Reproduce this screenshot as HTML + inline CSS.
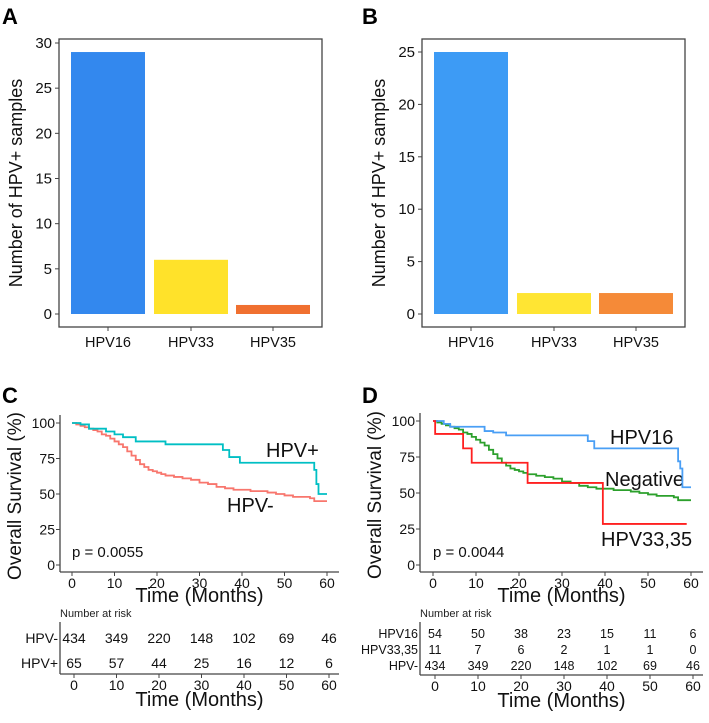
<!DOCTYPE html>
<html><head><meta charset="utf-8"><style>
body{margin:0;background:#fff;}
svg{display:block;font-family:"Liberation Sans",Arial,sans-serif;}
</style></head><body>
<svg width="709" height="723" viewBox="0 0 709 723">
<g id="root"></g>
</svg>
<script>
// Panel A data
const catsA = ["HPV16","HPV33","HPV35"];
const valsA = [29, 6, 1];
const ticksA = [0,5,10,15,20,25,30];
// Panel B data
const catsB = ["HPV16","HPV33","HPV35"];
const valsB = [25, 2, 2];
const ticksB = [0,5,10,15,20,25];
// Panel C KM data
const hpvPosT = [0,2,4,8,10,12,15,22,35.5,37,39.5,57,57.5,58,60];
const hpvPosS = [100,99,96,94,92,90,87,85,81,76,72,67,57,50,50];
const hpvNegT = [0,1,2,3,4,5,6,7,8,9,10,11,12,13,14,15,16,17,18,19,20,21,22,24,26,28,30,32,34,36,38,40,42,44,46,48,50,52,54,56,57,60];
const hpvNegS = [100,99,98,97,96,95,94,92,91,89,87,85,83,80,77,74,71,69,67,66,65,64,63,62,61,60,58,57,55,54,53,53,52,52,51,50,49,48,48,47,45,45];
// Panel D KM data
const hpv16T = [0,2.5,4,12,14,17,36,37.5,57,57.5,58,60];
const hpv16S = [100,98,96,93,92,90,86,81,72,67,54,54];
const hpv3335T = [0,0.5,7,9,22,39.5,59];
const hpv3335S = [100,91,81,71,57,28.5,28.5];
const negT = hpvNegT;
const negS = hpvNegS;
const kmTicks = [0,10,20,30,40,50,60];
const kmYTicks = [0,25,50,75,100];
// Risk tables
const riskCLabels = ["HPV-","HPV+"];
const riskC = [[434,349,220,148,102,69,46],[65,57,44,25,16,12,6]];
const riskDLabels = ["HPV16","HPV33,35","HPV-"];
const riskD = [[54,50,38,23,15,11,6],[11,7,6,2,1,1,0],[434,349,220,148,102,69,46]];

const NS="http://www.w3.org/2000/svg";
const root=document.getElementById('root');
function el(tag,attrs,parent){const e=document.createElementNS(NS,tag);for(const k in attrs)e.setAttribute(k,attrs[k]);(parent||root).appendChild(e);return e;}
function txt(s,x,y,size,anchor,extra){const t=el('text',Object.assign({x:x,y:y,'font-size':size,'text-anchor':anchor||'start',fill:'#111'},extra||{}));t.textContent=s;return t;}

function bar(cats,vals,ticks,box,y0,yTop,vTop,centers,colors,letter,lx,titleX){
  const g=el('g',{});
  
  
  const y=v=>y0-(y0-yTop)*v/vTop;
  const r=el('rect',{x:box[0],y:box[1],width:box[2]-box[0],height:box[3]-box[1],fill:'none',stroke:'#444','stroke-width':1.3},g);
  
  
  ticks.forEach(t=>{el('line',{x1:box[0]-4,x2:box[0],y1:y(t),y2:y(t),stroke:'#444'},g);const tt=txt(String(t),box[0]-7,y(t)+5,15,'end');g.appendChild(tt);});
  cats.forEach((c,i)=>{const cx=centers[i];const b=el('rect',{x:cx-37,y:y(vals[i]),width:74,height:y0-y(vals[i]),fill:colors[i]},g);
    
    
    el('line',{x1:cx,x2:cx,y1:box[3],y2:box[3]+4,stroke:'#444'},g);
    const tl=txt(c,cx,347,14.5,'middle');g.appendChild(tl);});
  const yt=txt('Number of HPV+ samples',0,0,18,'middle',{transform:`translate(${titleX},183) rotate(-90)`});
  g.appendChild(yt);
  const L=txt(letter,lx,24,22,'start',{'font-weight':'bold',fill:'#000'});
  g.appendChild(L);
}
bar(catsA,valsA,ticksA,[59,39,322,327],314,43,30,[108,191,273],['#3388ee','#ffe22a','#f07030'],'A',2,22);
bar(catsB,valsB,ticksB,[422,39,685,327],314,52,25,[471,554,636],['#3d9bf5','#ffe533','#f58a38'],'B',362,385);

function stepPath(T,S,x,y){let d=`M${x(T[0])},${y(S[0])}`;for(let i=1;i<T.length;i++){d+=` H${x(T[i])} V${y(S[i])}`;}return d;}

function km(cfg){
  const g=el('g',{});
  
  
  const x=t=>cfg.x0+(cfg.x60-cfg.x0)*t/60;
  const y=s=>cfg.y0-(cfg.y0-cfg.y100)*s/100;
  el('line',{x1:cfg.ax,x2:cfg.ax,y1:cfg.y100-8,y2:cfg.axB,stroke:'#444','stroke-width':1.3},g);
  el('line',{x1:cfg.ax,x2:cfg.axR,y1:cfg.axB,y2:cfg.axB,stroke:'#444','stroke-width':1.3},g);
  kmYTicks.forEach(s=>{el('line',{x1:cfg.ax-4,x2:cfg.ax,y1:y(s),y2:y(s),stroke:'#444'},g);const t=txt(String(s),cfg.ax-5,y(s)+5,14,'end');g.appendChild(t);});
  kmTicks.forEach(t=>{el('line',{x1:x(t),x2:x(t),y1:cfg.axB,y2:cfg.axB+4,stroke:'#444'},g);const tt=txt(String(t),x(t),cfg.axB+16,14,'middle');g.appendChild(tt);});
  const xt=txt('Time (Months)',(cfg.ax+cfg.axR)/2,cfg.axB+30,20,'middle');g.appendChild(xt);
  const yt=txt('Overall Survival (%)',0,0,19,'middle',{transform:`translate(${cfg.ax-39},${(cfg.y0+cfg.y100)/2+2}) rotate(-90)`});g.appendChild(yt);
  cfg.series.forEach(s=>{const p=el('path',{d:stepPath(s.T,s.S,x,y),fill:'none',stroke:s.c,'stroke-width':1.8},g);
    
    
    const l=txt(s.label,s.lx,s.ly,20,'start');g.appendChild(l);});
  const p=txt(cfg.p,cfg.x0,557,15,'start');g.appendChild(p);
  const L=txt(cfg.letter,cfg.lx,403,22,'start',{'font-weight':'bold',fill:'#000'});g.appendChild(L);
  const rt=txt('Number at risk',cfg.ax,617,11,'start',{fill:'#222'});g.appendChild(rt);
  el('line',{x1:cfg.ax,x2:cfg.ax,y1:622,y2:cfg.tB,stroke:'#444','stroke-width':1.3},g);
  el('line',{x1:cfg.ax,x2:cfg.axR,y1:cfg.tB,y2:cfg.tB,stroke:'#444','stroke-width':1.3},g);
  cfg.rows.forEach((r,i)=>{const ry=cfg.rowY[i];
    const lb=txt(cfg.rowL[i],cfg.ax-2,ry,cfg.rs,'end');g.appendChild(lb);
    r.forEach((v,j)=>{const c=txt(String(v),x(kmTicks[j])+2,ry,cfg.rs,'middle');g.appendChild(c);});});
  kmTicks.forEach(t=>{el('line',{x1:x(t)+2,x2:x(t)+2,y1:cfg.tB,y2:cfg.tB+4,stroke:'#444'},g);const tt=txt(String(t),x(t)+2,cfg.tB+16,14,'middle');g.appendChild(tt);});
  const xt2=txt('Time (Months)',(cfg.ax+cfg.axR)/2,cfg.tB+32,20,'middle');g.appendChild(xt2);
}
km({letter:'C',lx:2,ax:60,axR:339,axB:572,x0:72,x60:327,y0:565,y100:423,p:'p = 0.0055',
  series:[{n:'hpv-neg',T:hpvNegT,S:hpvNegS,c:'#f8766d',label:'HPV-',lx:227,ly:512},
          {n:'hpv-pos',T:hpvPosT,S:hpvPosS,c:'#00bfc4',label:'HPV+',lx:266,ly:457}],
  rows:riskC,rowL:riskCLabels,rowY:[643,668],rs:14,tB:674});
km({letter:'D',lx:362,ax:420,axR:703,axB:572,x0:433,x60:691,y0:565,y100:421,p:'p = 0.0044',
  series:[{n:'negative',T:negT,S:negS,c:'#2ca02c',label:'Negative',lx:605,ly:486},
          {n:'hpv16',T:hpv16T,S:hpv16S,c:'#4a9ff5',label:'HPV16',lx:610,ly:444},
          {n:'hpv33-35',T:hpv3335T,S:hpv3335S,c:'#ff2020',label:'HPV33,35',lx:601,ly:546}],
  rows:riskD,rowL:riskDLabels,rowY:[638,654,670],rs:12.5,tB:675});
</script>
</body></html>
